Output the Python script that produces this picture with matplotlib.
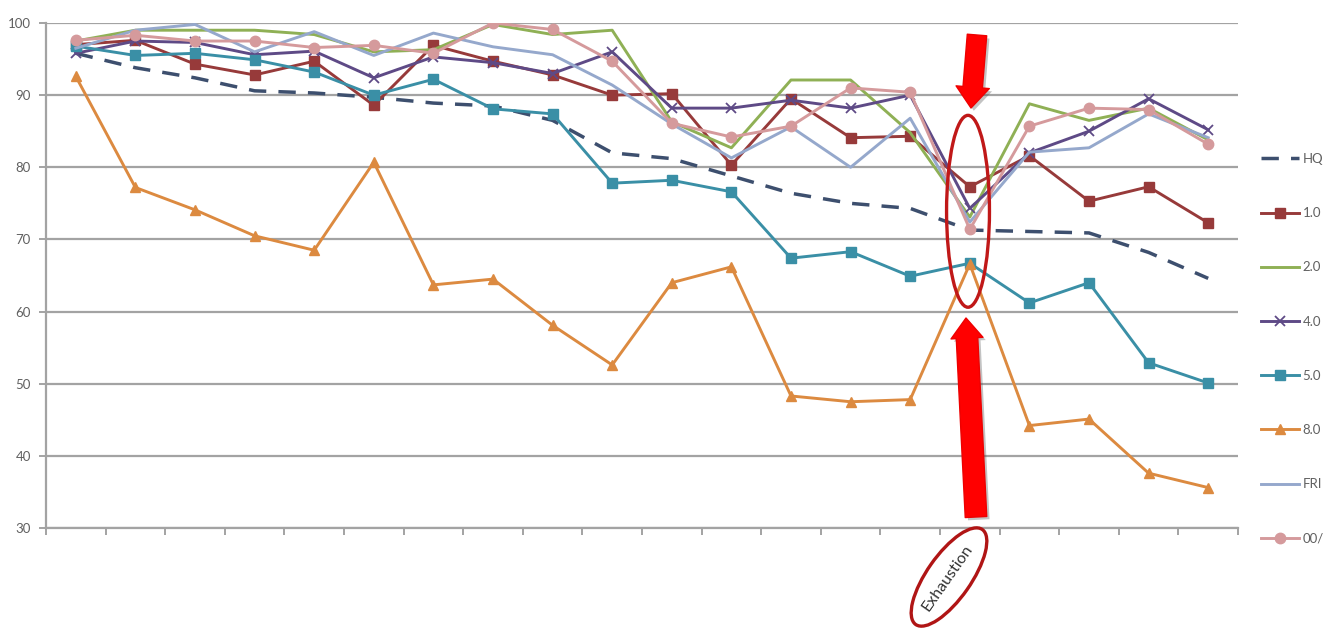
import numpy as np
import matplotlib
matplotlib.use("Agg")
import matplotlib.pyplot as plt
import matplotlib.transforms as mtransforms
import matplotlib.patheffects as pe
from matplotlib.patches import Ellipse

# valores (20 pontos por serie)
hq = [95.8, 93.8, 92.4, 90.6, 90.3, 89.7, 88.9, 88.5, 86.5, 82.0,
      81.2, 78.8, 76.4, 75.0, 74.3, 71.3, 71.1, 70.9, 68.2, 64.6]
s10 = [97.0, 97.6, 94.3, 92.8, 94.7, 88.6, 96.9, 94.7, 92.8, 90.0,
       90.2, 80.3, 89.5, 84.1, 84.3, 77.3, 81.6, 75.3, 77.3, 72.3]
s20 = [97.5, 99.0, 99.0, 99.0, 98.4, 96.0, 96.3, 99.8, 98.4, 99.0,
       86.3, 82.7, 92.1, 92.1, 84.8, 73.1, 88.8, 86.5, 88.2, 83.8]
s40 = [95.8, 97.5, 97.3, 95.6, 96.1, 92.4, 95.3, 94.5, 93.0, 96.0,
       88.2, 88.2, 89.3, 88.2, 90.0, 74.3, 82.0, 85.0, 89.5, 85.2]
s50 = [96.8, 95.5, 95.8, 94.9, 93.2, 90.0, 92.2, 88.1, 87.4, 77.8,
       78.2, 76.6, 67.4, 68.3, 64.9, 66.7, 61.2, 64.0, 52.9, 50.1]
s80 = [92.6, 77.2, 74.1, 70.5, 68.5, 80.7, 63.7, 64.5, 58.1, 52.6,
       64.0, 66.2, 48.3, 47.5, 47.8, 66.6, 44.2, 45.1, 37.6, 35.6]
fri = [96.5, 99.0, 99.8, 96.0, 98.8, 95.5, 98.6, 96.7, 95.6, 91.4,
       86.0, 81.3, 85.6, 80.0, 86.8, 72.4, 82.1, 82.7, 87.4, 84.1]
s00 = [97.6, 98.3, 97.5, 97.5, 96.6, 96.9, 95.8, 100.0, 99.1, 94.7,
       86.1, 84.2, 85.7, 91.0, 90.4, 71.4, 85.7, 88.2, 88.0, 83.2]

legendas = ["HQ", "1.0", "2.0", "4.0", "5.0", "8.0", "FRI", "00/"]
x = np.arange(len(hq))
idx_exaustao = 15

plt.rcParams['font.family'] = ['Lato', 'DejaVu Sans']

fig = plt.figure(figsize=(13.32, 6.35), dpi=100)
ax = fig.add_axes([46 / 1332, 107 / 635, 1192 / 1332, 505 / 635])

cinza = "#a3a3a3"
ax.plot(x, hq, color="#3d4f6e", lw=2.5, ls=(0, (5, 3.5)), label=legendas[0])
ax.plot(x, s10, color="#973a3a", lw=2.1, marker="s", ms=6.5, label=legendas[1])
ax.plot(x, s20, color="#8fb055", lw=2.1, label=legendas[2])
ax.plot(x, s40, color="#5e4a86", lw=2.1, marker="x", ms=7, mew=1.3, label=legendas[3])
ax.plot(x, s50, color="#3a8fa6", lw=2.1, marker="s", ms=6.5, label=legendas[4])
ax.plot(x, s80, color="#dc8a40", lw=2.1, marker="^", ms=6.5, label=legendas[5])
ax.plot(x, fri, color="#95a8cc", lw=2.1, label=legendas[6])
ax.plot(x, s00, color="#d59a9c", lw=2.1, marker="o", ms=7.5, label=legendas[7])

ax.set_xlim(-0.5, len(hq) - 0.5)
ax.set_ylim(30, 100)
ax.set_yticks(np.arange(30, 101, 10))
ax.set_xticks(np.arange(-0.5, len(hq), 1.0))
ax.set_xticklabels([])
ax.grid(axis="y", color=cinza, lw=1.6)
ax.set_axisbelow(True)
for lado in ["top", "right"]:
    ax.spines[lado].set_visible(False)
for lado in ["left", "bottom"]:
    ax.spines[lado].set_color(cinza)
    ax.spines[lado].set_linewidth(1.6)
ax.tick_params(axis="both", color=cinza, width=1.4, length=5, labelsize=9.5,
               labelcolor="#606060")
ax.tick_params(axis="y", pad=6)

fig.legend(loc="upper left", bbox_to_anchor=(1261 / 1332, 1 - 153 / 635),
           frameon=False, fontsize=9.5, labelcolor="#606060", labelspacing=3.2,
           handlelength=2.9, handletextpad=0.25, borderpad=0, borderaxespad=0)

# elipse vermelha em volta do ponto de exaustao
ax.add_patch(Ellipse((idx_exaustao - 0.03, 73.9), 0.72, 26.6, fill=False,
                     ec="#c01818", lw=2.4, clip_on=False, zorder=10))

# setas vermelhas (pixels da figura)
sombra = [pe.withSimplePatchShadow(offset=(2, -2), shadow_rgbFace="#555555", alpha=0.35)]
ax.annotate("", xy=(971, 635 - 108), xytext=(977, 635 - 35),
            xycoords="figure pixels", textcoords="figure pixels",
            arrowprops=dict(arrowstyle="simple,head_length=1.5,head_width=2.4,tail_width=1.4",
                            fc="#ff0000", ec="#ee0000", shrinkA=0, shrinkB=0,
                            mutation_scale=10, path_effects=sombra))
ax.annotate("", xy=(966, 635 - 318), xytext=(976, 635 - 517),
            xycoords="figure pixels", textcoords="figure pixels",
            arrowprops=dict(arrowstyle="simple,head_length=1.45,head_width=2.3,tail_width=1.55",
                            fc="#ff0000", ec="#ee0000", shrinkA=0, shrinkB=0,
                            mutation_scale=10, path_effects=sombra))

# rotulo "Exhaustion" abaixo do eixo
px = mtransforms.IdentityTransform()
fig.add_artist(Ellipse((949, 635 - 577), 116, 44, angle=55, fill=False,
                       ec="#b01515", lw=2.4, transform=px))
fig.text(947 / 1332, 1 - 578 / 635, "Exhaustion", rotation=55, fontsize=11.5,
         color="#333333", ha="center", va="center", rotation_mode="anchor")

plt.savefig("out.png", dpi=100)
